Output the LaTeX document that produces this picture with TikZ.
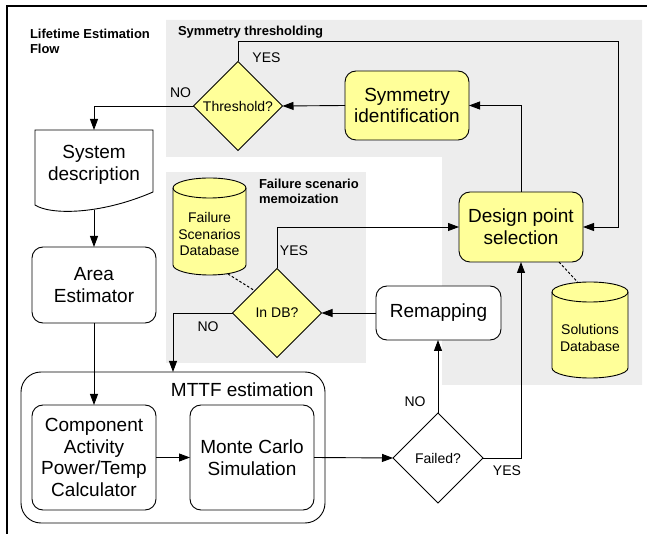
\documentclass[tikz,border=0pt]{standalone}
\usepackage{fontspec}
\setmainfont{Liberation Sans}
\usetikzlibrary{shapes.geometric,arrows.meta}
\definecolor{dyellow}{RGB}{255,255,153}
\definecolor{panelgray}{RGB}{237,237,237}
\begin{document}
\begin{tikzpicture}[x=1pt,y=-1pt,
  every node/.style={inner sep=0pt,outer sep=0pt,align=center},
  bigtxt/.style={font=\fontsize{19}{21.8}\selectfont},
  rbox/.style={draw,rounded corners=11pt,bigtxt,line width=0.9pt},
  ybox/.style={rbox,fill=dyellow},
  wbox/.style={rbox,fill=white},
  dia/.style={draw,diamond,aspect=1,minimum width=89pt,minimum height=89pt,font=\fontsize{14}{16}\selectfont,line width=0.9pt},
  lbl/.style={font=\fontsize{14}{16}\selectfont},
  dbtxt/.style={font=\fontsize{14}{16.2}\selectfont},
  ttl/.style={font=\bfseries\fontsize{13}{15}\selectfont,align=left},
  arr/.style={-{Triangle[length=11pt,width=8pt]},line width=0.9pt},
  dots/.style={dash pattern=on 2.5pt off 2pt,line width=1pt},
  cyl/.style={fill=dyellow,draw,line width=0.9pt}
]
\useasboundingbox (0,0) rectangle (648,534);

% frame
\draw[line width=1.6pt] (7,534) -- (7,6) -- (647,6);

% panels
\fill[panelgray] (166,20) -- (642,20) -- (642,385) -- (442,385) -- (442,157) -- (166,157) -- cycle;
\fill[panelgray] (166,172) rectangle (366,363);

% titles
\node[ttl,anchor=north west] (ttlflow) at (30,29) {Lifetime Estimation\\Flow};
\node[ttl,anchor=west] (ttlsym) at (178,32.5) {Symmetry thresholding};
\node[ttl,anchor=north west] (ttlfail) at (259,179) {Failure scenario\\memoization};

% system description (document shape)
\draw[line width=0.9pt,fill=white] (35,130) -- (153,130) -- (153,192)
   .. controls (100,215) and (50,215) .. (35,205) -- cycle;
\node[bigtxt,minimum width=118pt,minimum height=70pt] (sysdesc) at (94,165) {System\\description};

% boxes
\node[ybox,minimum width=124pt,minimum height=69pt] (symid) at (407,105.5) {Symmetry\\identification};
\node[ybox,minimum width=124pt,minimum height=70pt] (design) at (521,227) {Design point\\selection};
\node[wbox,minimum width=125pt,minimum height=54pt] (remap) at (438.5,313) {Remapping};
\node[wbox,minimum width=124pt,minimum height=76pt] (area) at (94,285) {Area\\Estimator};

% MTTF group
\node[draw,rounded corners=20pt,line width=0.9pt,minimum width=304pt,minimum height=151pt] (mttf) at (173,447.5) {};
\node[bigtxt,anchor=east] (mttflbl) at (313.5,390) {MTTF estimation};
\node[wbox,minimum width=124pt,minimum height=105pt] (comp) at (94,457.5) {Component\\Activity\\Power/Temp\\Calculator};
\node[wbox,minimum width=124pt,minimum height=105pt] (monte) at (252,457.5) {Monte Carlo\\Simulation};

% diamonds
\node[dia,fill=dyellow] (threshold) at (238,106) {Threshold?};
\node[dia,fill=dyellow] (indb) at (277,313) {In DB?};
\node[dia,fill=white,minimum width=90pt,minimum height=90pt] (failed) at (438,458) {Failed?};

% cylinders
\path[cyl] (173,188) -- (173,265) arc[start angle=180,end angle=360,x radius=36.5pt,y radius=10pt]
   -- (246,188) arc[start angle=0,end angle=180,x radius=36.5pt,y radius=10pt] -- cycle;
\draw[line width=0.9pt] (173,188) arc[start angle=180,end angle=360,x radius=36.5pt,y radius=10pt];
\node[dbtxt] (fdb) at (209.5,234) {Failure\\Scenarios\\Database};

\path[cyl] (552,292) -- (552,368) arc[start angle=180,end angle=360,x radius=38pt,y radius=10pt]
   -- (628,292) arc[start angle=0,end angle=180,x radius=38pt,y radius=10pt] -- cycle;
\draw[line width=0.9pt] (552,292) arc[start angle=180,end angle=360,x radius=38pt,y radius=10pt];
\node[dbtxt] (sdb) at (590,338) {Solutions\\Database};

% coordinates
\coordinate (ytop) at (618,41);
\coordinate (fdbdot) at (228,274);
\coordinate (ddot) at (559,262);
\coordinate (sdbtop) at (578,282.5);

% connectors
\draw[arr] (threshold.north) |- (ytop) |- (design.east);
\draw[arr] (threshold.west) -| (sysdesc.north);
\draw[arr] (symid.west) -- (threshold.east);
\draw[arr] (design.north) |- (symid.east);
\draw[arr] ([yshift=-10pt]sysdesc.south) -- (area.north);
\draw[arr] (area.south) -- (comp.north);
\draw[arr] (indb.north) |- (design.west);
\draw[arr] (indb.west) -| (mttf.north);
\draw[arr] (remap.west) -- (indb.east);
\draw[arr] (failed.north) -- (failed.north |- remap.south);
\draw[arr] (failed.east) -| (design.south);
\draw[arr] (comp.east) -- (monte.west);
\draw[arr] (monte.east) -- (failed.west);
\draw[dots] (fdbdot) -- (indb.north west);
\draw[dots] (ddot) -- (sdbtop);

% labels
\node[lbl] (yes1) at (266.5,58) {YES};
\node[lbl] (no1) at (180.5,92.5) {NO};
\node[lbl] (yes2) at (294,250.5) {YES};
\node[lbl] (no2) at (208,326.7) {NO};
\node[lbl] (no3) at (415,401.7) {NO};
\node[lbl] (yes3) at (507,471) {YES};
\end{tikzpicture}
\end{document}
